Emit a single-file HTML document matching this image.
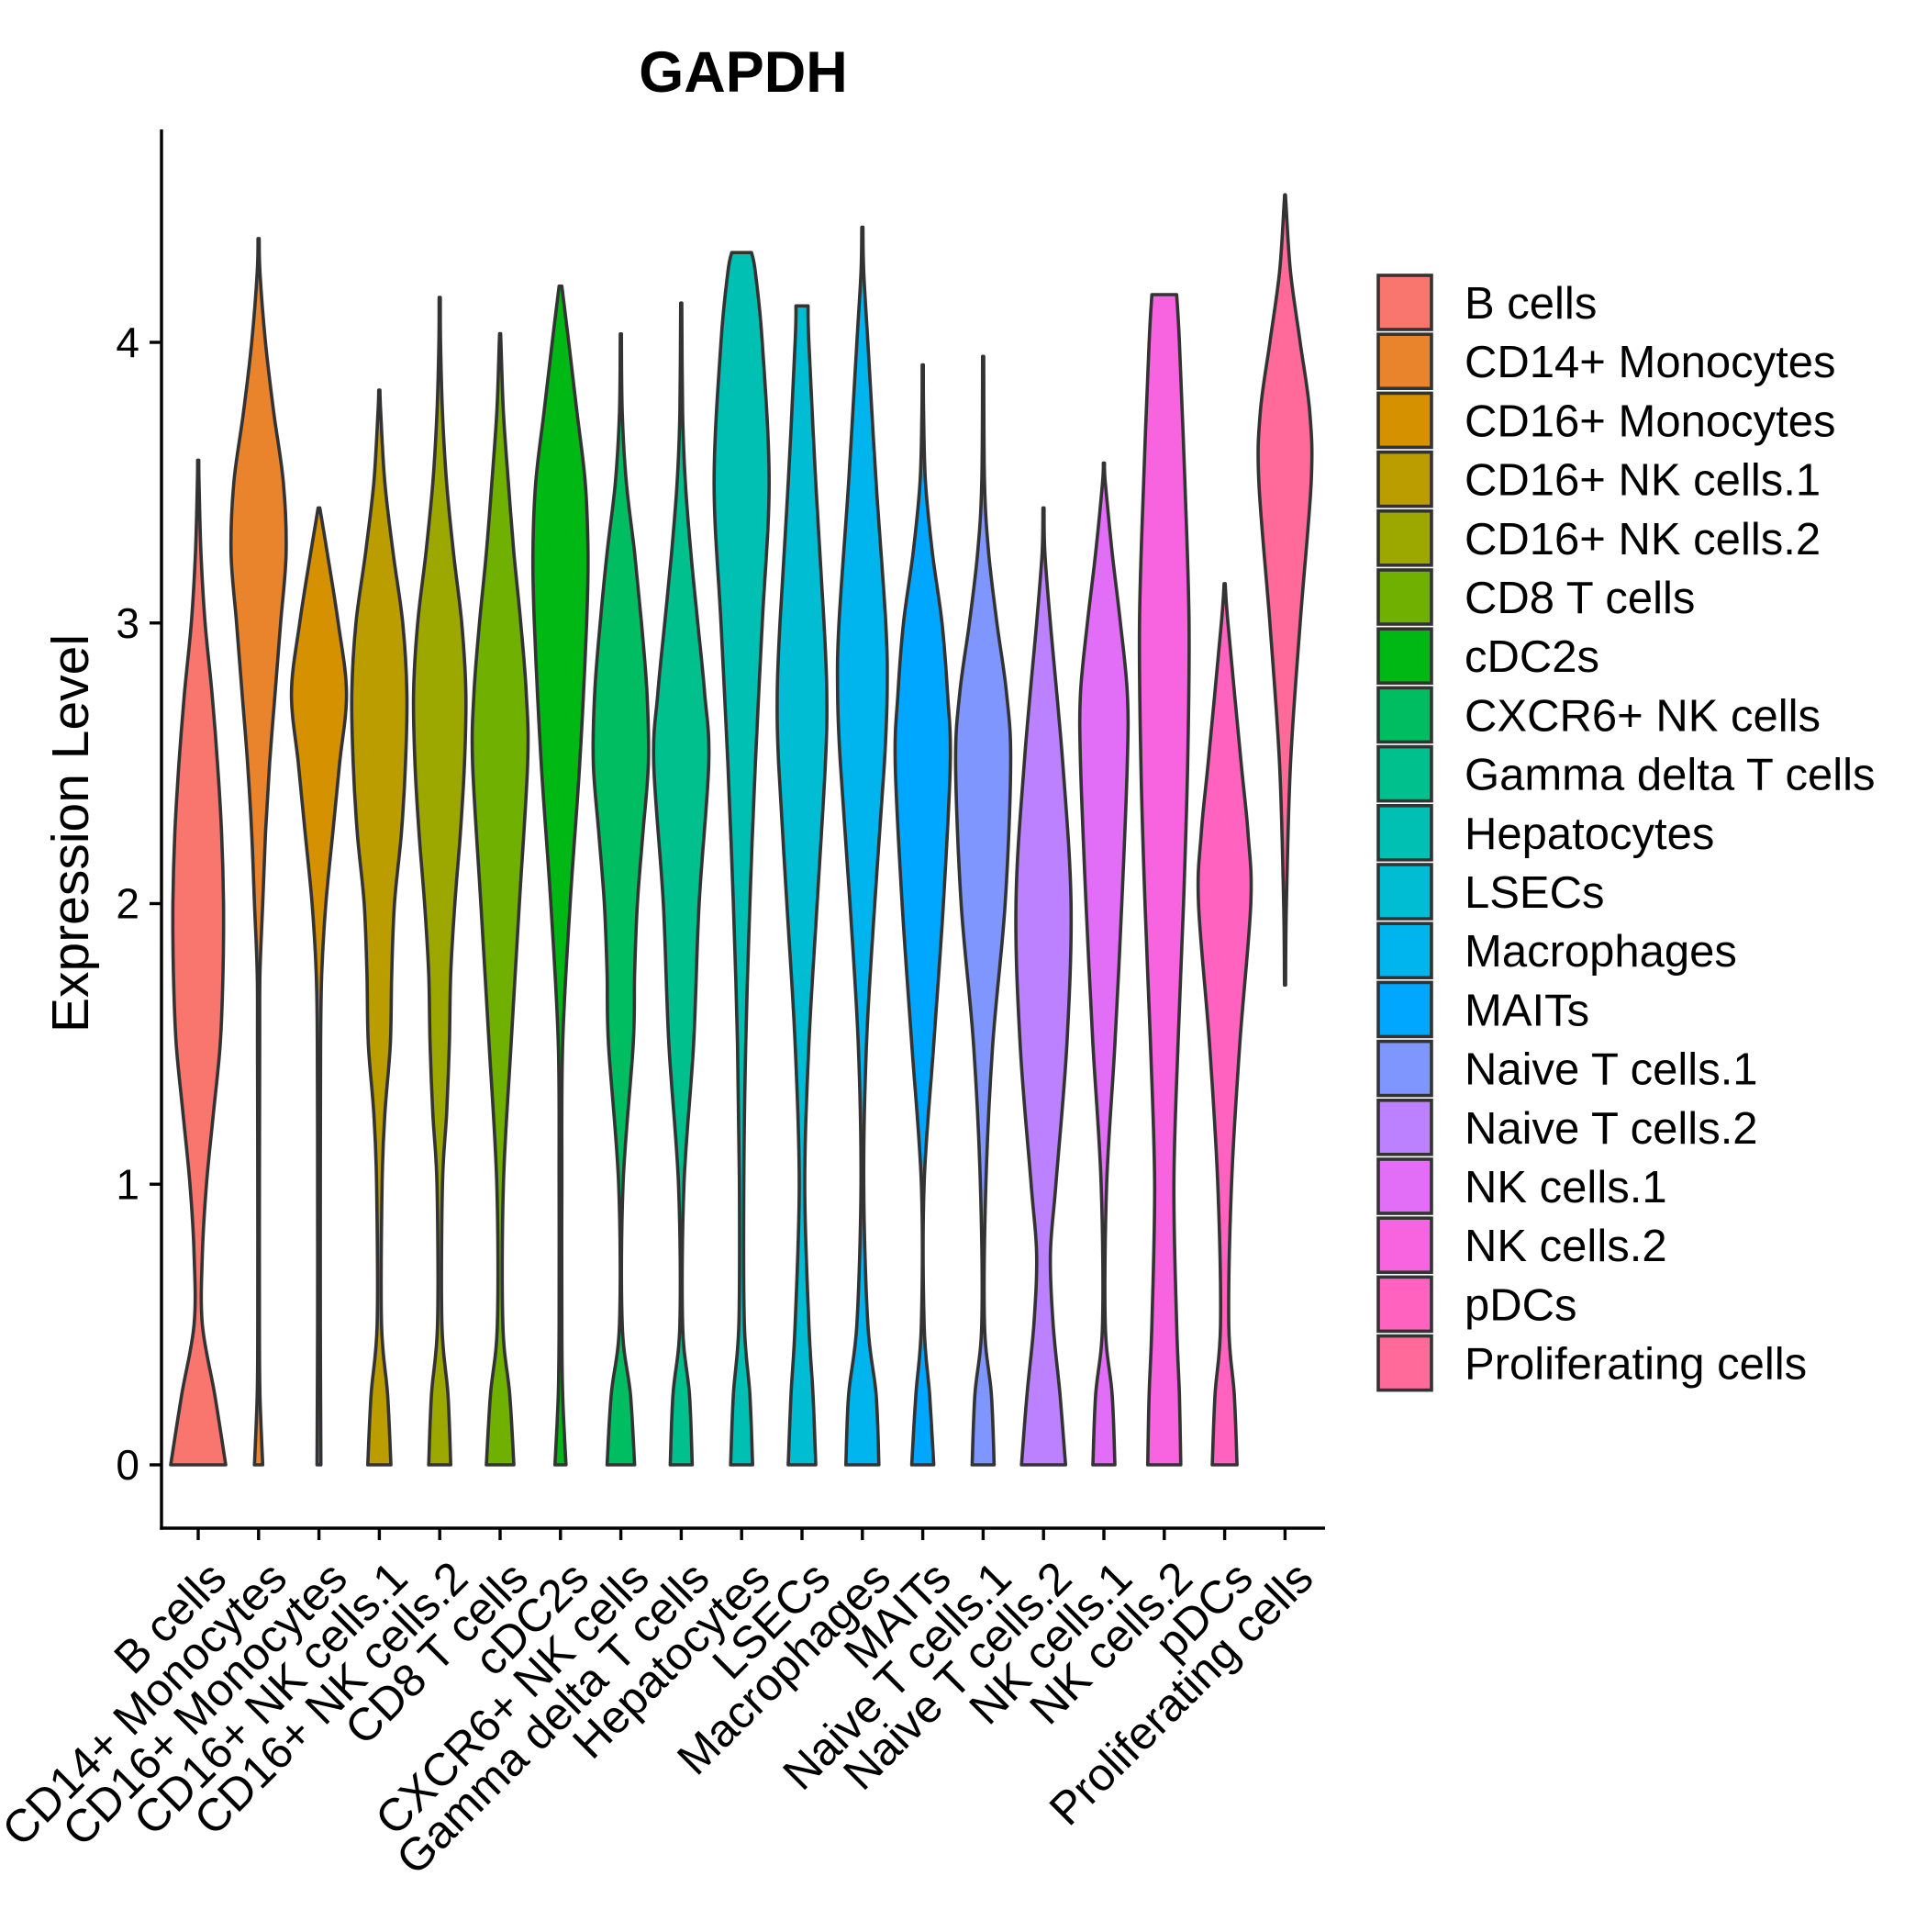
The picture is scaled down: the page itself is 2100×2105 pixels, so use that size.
<!DOCTYPE html>
<html><head><meta charset="utf-8"><style>
html,body{margin:0;padding:0;background:#fff;}
svg text{font-family:"Liberation Sans",Arial,sans-serif;}
</style></head><body>
<svg id="chart" width="2100" height="2100" viewBox="0 0 2100 2100" xmlns="http://www.w3.org/2000/svg">
<rect width="2100" height="2100" fill="#fff"/>
<text x="810" y="100" font-size="63" font-weight="bold" text-anchor="middle">GAPDH</text>
<text transform="translate(96,908) rotate(-90)" font-size="57" text-anchor="middle">Expression Level</text>
<g id="violins"></g>
<g id="axes"></g>
<g id="legend"></g>
</svg>
<script>
const categories = ["B cells","CD14+ Monocytes","CD16+ Monocytes","CD16+ NK cells.1","CD16+ NK cells.2","CD8 T cells","cDC2s","CXCR6+ NK cells","Gamma delta T cells","Hepatocytes","LSECs","Macrophages","MAITs","Naive T cells.1","Naive T cells.2","NK cells.1","NK cells.2","pDCs","Proliferating cells"];
const colors = ["#F8766D","#E9842C","#D69100","#BC9D00","#9CA700","#6FB000","#00B813","#00BD61","#00C08E","#00C0B4","#00BDD4","#00B5EE","#00A7FF","#7F96FF","#BC81FF","#E26EF7","#F863DF","#FF62BF","#FF6A9A"];
const yTicks = [0,1,2,3,4];
// density profiles: [value, relative half-width]
const densB = [[0,1.0],[0.25,0.6],[0.5,0.15],[0.75,0.15],[1,0.3],[1.25,0.55],[1.5,0.8],[1.75,0.9],[2,0.92],[2.25,0.85],[2.5,0.7],[2.75,0.5],[3,0.25],[3.25,0.1],[3.5,0.03],[3.58,0.02]];
const densCD14 = [[0,0.15],[0.25,0.05],[0.5,0.03],[1,0.03],[1.5,0.04],[1.75,0.05],[2,0.15],[2.25,0.25],[2.5,0.4],[2.75,0.6],[3,0.8],[3.25,1.0],[3.5,0.9],[3.75,0.55],[4,0.25],[4.25,0.05],[4.37,0.02]];
const densCD16M = [[0,0.07],[0.5,0.05],[1,0.05],[1.5,0.06],[1.75,0.1],[2,0.25],[2.25,0.5],[2.5,0.75],[2.75,1.0],[3,0.7],[3.25,0.3],[3.41,0.03]];
const densNK1 = [[0,0.42],[0.25,0.3],[0.5,0.08],[1,0.1],[1.25,0.2],[1.5,0.4],[1.75,0.45],[2,0.55],[2.25,0.8],[2.5,0.95],[2.75,1.0],[3,0.85],[3.25,0.5],[3.5,0.2],[3.75,0.05],[3.83,0.02]];
const densNK2 = [[0,0.4],[0.25,0.3],[0.5,0.08],[1,0.1],[1.25,0.25],[1.5,0.35],[1.75,0.4],[2,0.55],[2.25,0.75],[2.5,0.9],[2.75,0.95],[3,0.8],[3.25,0.5],[3.5,0.25],[3.75,0.1],[4,0.03],[4.16,0.02]];
const densCD8 = [[0,0.5],[0.25,0.35],[0.5,0.1],[1,0.12],[1.5,0.4],[2,0.7],[2.5,1.0],[2.75,0.95],[3,0.75],[3.25,0.5],[3.5,0.3],[3.75,0.12],[4,0.03],[4.03,0.02]];
const densCDC2 = [[0,0.2],[0.25,0.08],[0.5,0.05],[1,0.05],[1.5,0.08],[2,0.35],[2.5,0.7],[3,0.95],[3.25,1.0],[3.5,0.9],[3.75,0.6],[4,0.3],[4.2,0.05]];
const densCXCR6 = [[0,0.5],[0.25,0.35],[0.5,0.05],[1,0.08],[1.5,0.45],[1.75,0.5],[2,0.6],[2.25,0.8],[2.5,1.0],[2.75,0.95],[3,0.75],[3.25,0.5],[3.5,0.2],[3.75,0.05],[4.03,0.02]];
const densGD = [[0,0.4],[0.25,0.3],[0.5,0.05],[1,0.1],[1.5,0.45],[2,0.65],[2.5,1.0],[2.75,0.85],[3,0.6],[3.25,0.35],[3.5,0.15],[3.75,0.05],[4.14,0.02]];
const densHep = [[0,0.4],[0.25,0.3],[0.5,0.1],[1,0.08],[1.5,0.15],[2,0.3],[2.5,0.5],[3,0.75],[3.5,1.0],[4,0.75],[4.25,0.5],[4.32,0.36]];
const densLSEC = [[0,0.5],[0.25,0.4],[0.5,0.25],[1,0.1],[1.5,0.25],[2,0.55],[2.5,0.85],[2.75,0.9],[3,0.8],[3.5,0.5],[4,0.25],[4.13,0.22]];
const densMac = [[0,0.6],[0.25,0.5],[0.5,0.2],[1,0.05],[1.5,0.15],[2,0.45],[2.5,0.8],[2.75,0.9],[3,0.85],[3.5,0.5],[4,0.2],[4.25,0.05],[4.41,0.02]];
const densMAIT = [[0,0.4],[0.25,0.25],[0.5,0.05],[1,0.05],[1.5,0.4],[2,0.75],[2.5,1.0],[2.75,0.9],[3,0.7],[3.25,0.35],[3.5,0.1],[3.75,0.03],[3.92,0.02]];
const densNT1 = [[0,0.4],[0.25,0.3],[0.5,0.05],[1,0.1],[1.5,0.35],[2,0.8],[2.5,1.0],[2.75,0.85],[3,0.5],[3.25,0.2],[3.5,0.05],[3.95,0.02]];
const densNT2 = [[0,0.8],[0.25,0.6],[0.5,0.35],[0.75,0.25],[1,0.45],[1.5,0.85],[2,1.0],[2.5,0.7],[3,0.25],[3.25,0.05],[3.41,0.02]];
const densNKc1 = [[0,0.4],[0.25,0.3],[0.5,0.05],[1,0.1],[1.5,0.4],[2,0.65],[2.5,0.85],[2.75,0.85],[3,0.6],[3.25,0.3],[3.5,0.05],[3.57,0.02]];
const densNKc2 = [[0,0.6],[0.25,0.55],[0.5,0.45],[1,0.35],[1.5,0.5],[2,0.7],[2.5,0.85],[3,0.9],[3.5,0.75],[4,0.55],[4.17,0.45]];
const densPDC = [[0,0.45],[0.25,0.35],[0.5,0.15],[1,0.25],[1.5,0.55],[2,0.95],[2.25,0.85],[2.5,0.6],[3,0.12],[3.14,0.02]];
const densProl = [[1.71,0.02],[2,0.05],[2.5,0.2],[3,0.55],[3.5,0.95],[3.75,0.9],[4,0.55],[4.25,0.2],[4.5,0.03],[4.52,0.02]];
const densities = [densB,densCD14,densCD16M,densNK1,densNK2,densCD8,densCDC2,densCXCR6,densGD,densHep,densLSEC,densMac,densMAIT,densNT1,densNT2,densNKc1,densNKc2,densPDC,densProl];

const NS="http://www.w3.org/2000/svg";
const X0=216, DX=65.8, HALF=30, Y0=1596, PER=305.75;
const AX_L=176, AX_B=1665, AX_T=141, AX_R=1444;
function xScale(i){return X0+DX*i;}
function yScale(v){return Y0-v*PER;}
function mk(tag,attrs,parent){const e=document.createElementNS(NS,tag);for(const k in attrs)e.setAttribute(k,attrs[k]);parent.appendChild(e);return e;}
function smooth(pts){
  let d="";
  for(let i=0;i<pts.length-1;i++){
    const p0=pts[Math.max(0,i-1)],p1=pts[i],p2=pts[i+1],p3=pts[Math.min(pts.length-1,i+2)];
    const c1=[p1[0]+(p2[0]-p0[0])/6,p1[1]+(p2[1]-p0[1])/6];
    const c2=[p2[0]-(p3[0]-p1[0])/6,p2[1]-(p3[1]-p1[1])/6];
    d+=` C${c1[0].toFixed(1)},${c1[1].toFixed(1)} ${c2[0].toFixed(1)},${c2[1].toFixed(1)} ${p2[0].toFixed(1)},${p2[1].toFixed(1)}`;
  }
  return d;
}
const vg=document.getElementById('violins');
densities.forEach((dens,i)=>{
  const cx=xScale(i);
  const R=dens.map(p=>[cx+p[1]*HALF,yScale(p[0])]);
  const L=dens.map(p=>[cx-p[1]*HALF,yScale(p[0])]).reverse();
  let d=`M${L[L.length-1][0].toFixed(1)},${R[0][1].toFixed(1)} L${R[0][0].toFixed(1)},${R[0][1].toFixed(1)}`+smooth(R)+` L${L[0][0].toFixed(1)},${L[0][1].toFixed(1)}`+smooth(L)+" Z";
  const p=mk('path',{d:d,fill:colors[i],stroke:"#333333","stroke-width":3.6,"stroke-linejoin":"round"},vg);
  
  
});
const ag=document.getElementById('axes');
let l=mk('line',{x1:AX_L,y1:AX_T,x2:AX_L,y2:AX_B+1.7,stroke:"#000","stroke-width":3.4},ag);


l=mk('line',{x1:AX_L-1.7,y1:AX_B,x2:AX_R,y2:AX_B,stroke:"#000","stroke-width":3.4},ag);


yTicks.forEach(v=>{
  const y=yScale(v);
  const t=mk('line',{x1:AX_L-13,y1:y,x2:AX_L,y2:y,stroke:"#000","stroke-width":3.4},ag);
  
  
  const tx=mk('text',{x:AX_L-24,y:y+16,"font-size":46,"text-anchor":"end",fill:"#000"},ag);
  tx.textContent=v;
  
  
});
categories.forEach((c,i)=>{
  const x=xScale(i);
  const t=mk('line',{x1:x,y1:AX_B,x2:x,y2:AX_B+13,stroke:"#000","stroke-width":3.4},ag);
  
  
  const tx=mk('text',{transform:`translate(${x+8},${AX_B+32}) rotate(-45)`,"font-size":50,"text-anchor":"end",dy:"0.72em",fill:"#000"},ag);
  tx.textContent=c;
  
  
});
const lg=document.getElementById('legend');
categories.forEach((c,i)=>{
  const y=300+i*64.2;
  const r=mk('rect',{x:1502,y:y,width:58,height:59,fill:colors[i],stroke:"#333333","stroke-width":3.6},lg);
  
  
  const t=mk('text',{x:1596,y:y+47,"font-size":49,fill:"#000"},lg);
  t.textContent=c;
  
  
});
</script>
</body></html>
